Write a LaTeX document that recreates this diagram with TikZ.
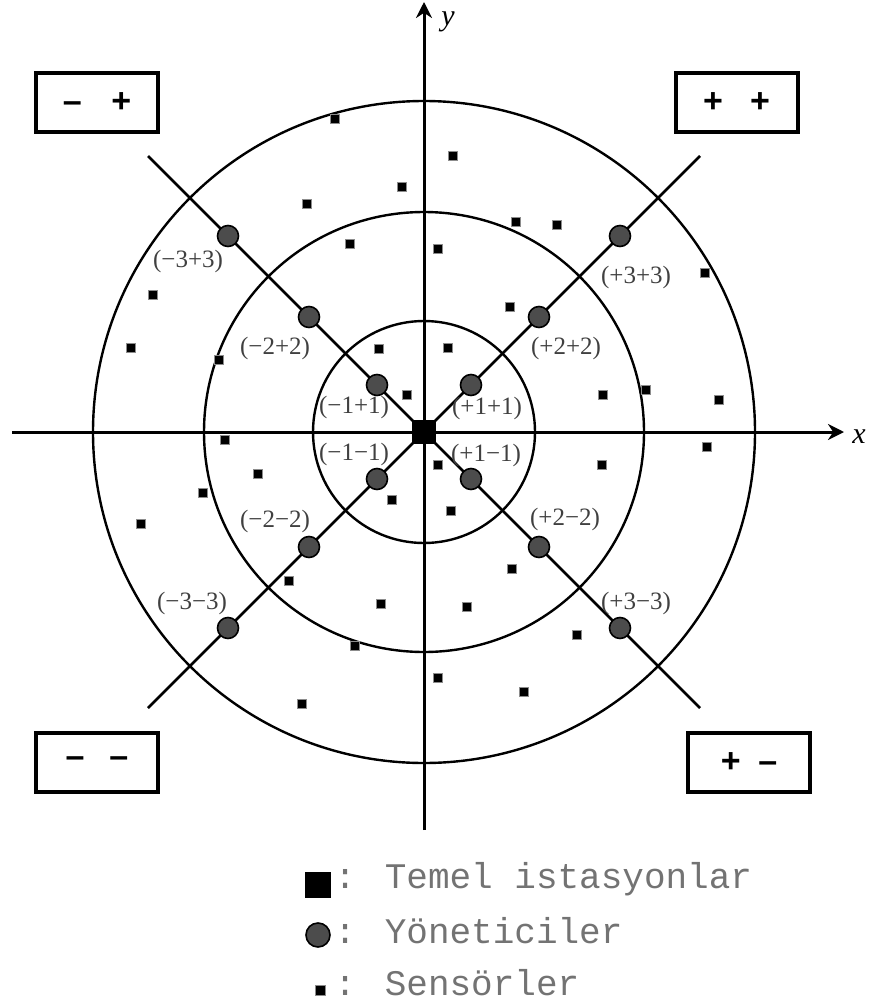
\documentclass[tikz,border=0pt]{standalone}
\usepackage{fontspec}
\usetikzlibrary{arrows.meta}
\newfontfamily\labfont{Liberation Serif}
\newfontfamily\legfont{Liberation Mono}
\newfontfamily\sgnfont{Liberation Sans}

\begin{document}
\begin{tikzpicture}[x=0.5pt, y=-0.5pt]
  \tikzstyle{mgr} = [draw, circle, fill=black!70, line width=0.8pt, minimum size=10.5pt, inner sep=0pt]
  \tikzstyle{sens} = [draw=black!45, fill=black, rectangle, minimum size=4.5pt, inner sep=0pt, line width=0.5pt]
  \tikzstyle{base} = [fill=black, rectangle, minimum size=12pt, inner sep=0pt]
  \tikzstyle{qbox} = [draw, line width=2pt, minimum width=61pt, minimum height=29.5pt, inner sep=0pt, font=\sgnfont\bfseries\fontsize{17}{17}\selectfont]
  \tikzstyle{lab} = [font=\labfont\fontsize{12.5}{12.5}\selectfont, text=black!75, inner sep=0pt]
  \tikzstyle{leg} = [font=\legfont\fontsize{18}{18}\selectfont, text=black!55, anchor=base west, inner sep=0pt]
  \useasboundingbox (0,0) rectangle (870,1006);

  \node[base] (bs) at (424,432) {};

  % rings
  \draw[line width=1.2pt] (bs.center) circle (111);
  \draw[line width=1.2pt] (bs.center) circle (220);
  \draw[line width=1.2pt] (bs.center) circle (331);

  % diagonals
  \coordinate (nw) at (148,156);
  \coordinate (se) at (700,708);
  \coordinate (ne) at (700,156);
  \coordinate (sw) at (148,708);
  \draw[line width=1.4pt] (nw) -- (se);
  \draw[line width=1.4pt] (sw) -- (ne);

  % axes
  \coordinate (xl) at (12,432);
  \coordinate (xr) at (844,432);
  \coordinate (yb) at (424,830);
  \coordinate (yt) at (424,2);
  \draw[->, >={Stealth[length=8pt,width=8pt]}, line width=1.5pt] (xl) -- (xr);
  \draw[->, >={Stealth[length=8pt,width=8pt]}, line width=1.5pt] (yb) -- (yt);
  \node[font=\labfont\itshape\fontsize{15}{15}\selectfont] (xlab) at (859,437) {x};
  \node[font=\labfont\itshape\fontsize{15}{15}\selectfont] (ylab) at (448,22) {y};

  \node[base] (bs) at (424,432) {};

  % managers
  \foreach \sx/\sy/\q in {1/-1/pp, -1/-1/mp, -1/1/mm, 1/1/pm} {
    \foreach \k/\d in {1/47, 2/115, 3/196} {
      \node[mgr] (m\k\q) at ({424+\sx*\d}, {432+\sy*\d}) {};
    }
  }

  % manager labels
  \node[lab] (l1mp) at (354,407) {(−1+1)};
  \node[lab] (l1pp) at (487,408) {(+1+1)};
  \node[lab] (l1mm) at (354,454) {(−1−1)};
  \node[lab] (l1pm) at (486,455) {(+1−1)};
  \node[lab] (l2mp) at (275,348) {(−2+2)};
  \node[lab] (l2pp) at (566,348) {(+2+2)};
  \node[lab] (l2mm) at (275,521) {(−2−2)};
  \node[lab] (l2pm) at (565,519) {(+2−2)};
  \node[lab] (l3mp) at (188,261) {(−3+3)};
  \node[lab] (l3pp) at (636,277) {(+3+3)};
  \node[lab] (l3mm) at (192,603) {(−3−3)};
  \node[lab] (l3pm) at (636,603) {(+3−3)};

  % sensors
  \foreach \px/\py [count=\i] in {335/119, 453/156, 402/187, 307/204, 516/222, 557/225,
      350/244, 438/249, 153/295, 705/273, 510/307, 131/348, 219/360, 379/349, 448/348,
      407/395, 603/395, 646/390, 719/400, 225/440, 707/447, 258/474, 438/465, 602/465,
      203/493, 141/524, 392/500, 451/511, 512/569, 289/581, 381/604, 467/607, 577/635,
      355/646, 438/678, 524/692, 302/704} {
    \node[sens] (s\i) at (\px,\py) {};
  }

  % quadrant signs
  \node[qbox] (qmp) at (97,102.5) {–\hspace{14.8pt}+};
  \node[qbox] (qpp) at (736.5,102.5) {+\hspace{13.6pt}+};
  \node[qbox] (qmm) at (97,762.5) {–\hspace{12.5pt}–};
  \node[qbox] (qpm) at (749,762.5) {+\hspace{8.8pt}–};

  % legend
  \node[base, minimum size=13pt] (kbs) at (318,885) {};
  \node[mgr, minimum size=12pt] (kmg) at (318,935) {};
  \node[sens, minimum size=5pt] (ksn) at (320,990) {};
  \node[leg] (tbs) at (334,888) {: Temel istasyonlar};
  \node[leg] (tmg) at (334,943) {: Yöneticiler};
  \node[leg] (tsn) at (334,995) {: Sensörler};
\end{tikzpicture}
\end{document}
